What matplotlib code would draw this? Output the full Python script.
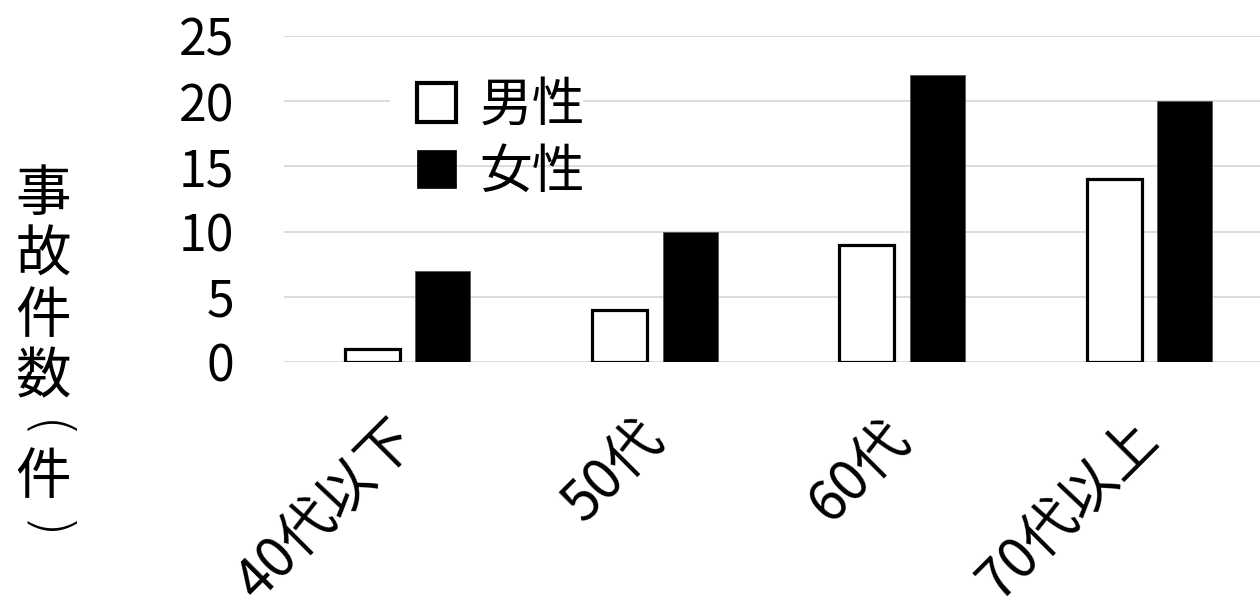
import matplotlib
matplotlib.use("Agg")
import matplotlib.pyplot as plt
import matplotlib.patches as mpatches
import numpy as np

plt.rcParams['font.family'] = ['Noto Sans CJK JP', 'DejaVu Sans']

# Data
categories = ["40代以下", "50代", "60代", "70代以上"]
male = [1, 4, 9, 14]
female = [7, 10, 22, 20]
series_names = ["男性", "女性"]
y_ticks = [0, 5, 10, 15, 20, 25]
y_label_chars = ["事", "故", "件", "数", "(", "件", ")"]

W, H = 1260, 616
fig = plt.figure(figsize=(W / 100, H / 100), dpi=100)
ax = fig.add_axes([284 / W, 254 / H, (1273 - 284) / W, (580 - 254) / H])

x = np.arange(len(categories))
bw = 0.2225
off = 0.1427

ax.bar(x - off, male, bw, facecolor="white", edgecolor="black", linewidth=2.3, zorder=2)
ax.bar(x + off, female, bw, facecolor="black", edgecolor="#555555", linewidth=0.6, zorder=2)

ax.set_xlim(-0.5, len(categories) - 0.5)
ax.set_ylim(0, 25)
ax.set_yticks(y_ticks)
ax.set_yticklabels([str(v) for v in y_ticks], fontsize=36)
ax.tick_params(axis="y", length=0, pad=36)
ax.set_xticks(x)
ax.set_xticklabels(categories, fontsize=40, rotation=45, ha="right",
                   va="center", rotation_mode="anchor")
ax.tick_params(axis="x", length=0, pad=49)

ax.set_axisbelow(True)
ax.yaxis.grid(True, color="#d9d9d9", linewidth=1.3)
for s in ax.spines.values():
    s.set_visible(False)

# White backdrop behind the first legend row
ax.add_patch(mpatches.Rectangle((390 / W, 1 - 135 / H), (583 - 390) / W, 70 / H,
                                transform=fig.transFigure, facecolor="white",
                                edgecolor="none", zorder=1.5, clip_on=False))

handles = [
    mpatches.Patch(facecolor="white", edgecolor="black", linewidth=3),
    mpatches.Patch(facecolor="black", edgecolor="black", linewidth=0.5),
]
leg = ax.legend(handles, series_names, loc="upper left",
                bbox_to_anchor=(417 / W, 1 - 78 / H), bbox_transform=fig.transFigure,
                frameon=False, fontsize=38, handlelength=0.74, handleheight=0.74,
                handletextpad=0.45, labelspacing=0.22, borderpad=0, borderaxespad=0)
leg.set_zorder(5)

# Vertical axis title, one character per line; brackets turned for vertical setting
centres = []
y_pos = 195
for ch in y_label_chars:
    is_bracket = ch in "()"
    if is_bracket:
        y_pos -= 8
    centres.append(y_pos)
    y_pos += 55 if is_bracket else 61
    if is_bracket:
        y_pos -= 8

for ch, yc in zip(y_label_chars, centres):
    if ch in "()":
        fig.text(43 / W, 1 - yc / H, ch, fontsize=40, ha="center", va="center",
                 rotation=-90, family="DejaVu Sans", fontweight="light")
    else:
        fig.text(43 / W, 1 - yc / H, ch, fontsize=40, ha="center", va="center")

fig.savefig("out.png", dpi=100)
